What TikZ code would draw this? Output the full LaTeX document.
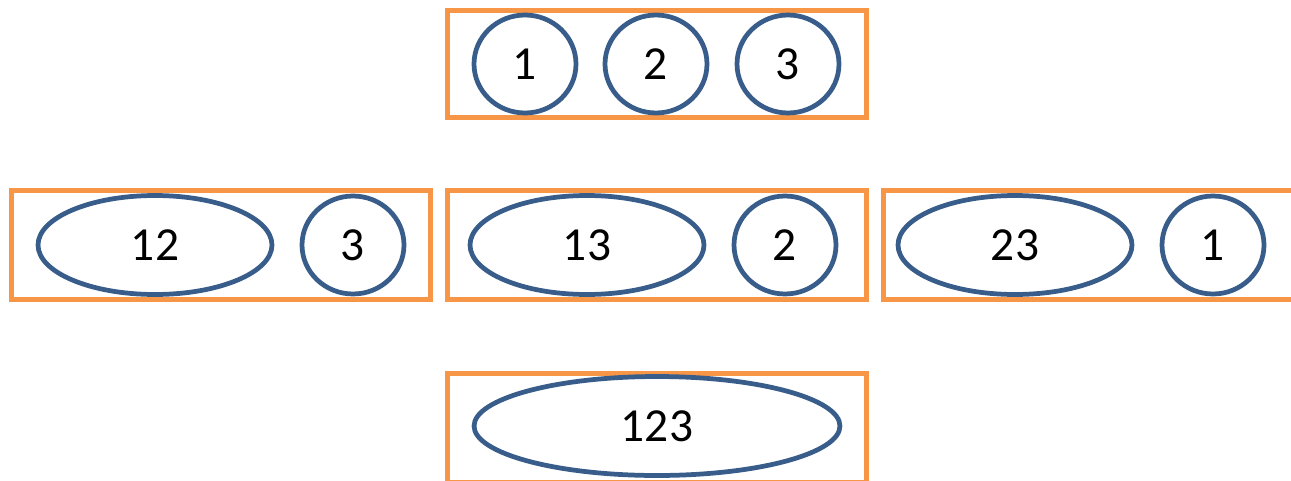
\documentclass[tikz,border=0pt]{standalone}
\usepackage{fontspec}
\setmainfont{Carlito}
\usetikzlibrary{shapes.geometric}
\definecolor{partorange}{RGB}{247,150,70}
\definecolor{blockblue}{RGB}{56,93,138}

\begin{document}
\begin{tikzpicture}[x=0.02cm,y=-0.02cm,
  part/.style={draw=partorange,line width=2.8pt,rectangle,minimum width=8.39cm,minimum height=2.18cm,inner sep=0pt},
  single/.style={draw=blockblue,line width=2.7pt,ellipse,minimum width=2.04cm,minimum height=1.96cm,inner sep=0pt,font=\fontsize{27}{32}\selectfont},
  pair/.style={single,minimum width=4.68cm,minimum height=1.98cm},
  triple/.style={single,minimum width=7.32cm,minimum height=1.98cm}]
\clip (0,0) rectangle (1291,480);
% partition {1},{2},{3}
\node[part,minimum height=2.15cm] (p0) at (657,64) {};
\node[single] (s1) at (525,64) {1};
\node[single] (s2) at (656,64) {2};
\node[single] (s3) at (788,64) {3};
% two blocks
\node[part] (p1) at (221,245) {};
\node[pair] (s12) at (155,245) {12};
\node[single] (s12b) at (353,245) {3};
\node[part] (p2) at (657,245) {};
\node[pair] (s13) at (587,245) {13};
\node[single] (s13b) at (785,245) {2};
\node[part] (p3) at (1093,245) {};
\node[pair] (s23) at (1015,245) {23};
\node[single] (s23b) at (1213,245) {1};
% one block
\node[part] (p4) at (657,428) {};
\node[triple] (s123) at (657,426) {123};
\end{tikzpicture}
\end{document}
